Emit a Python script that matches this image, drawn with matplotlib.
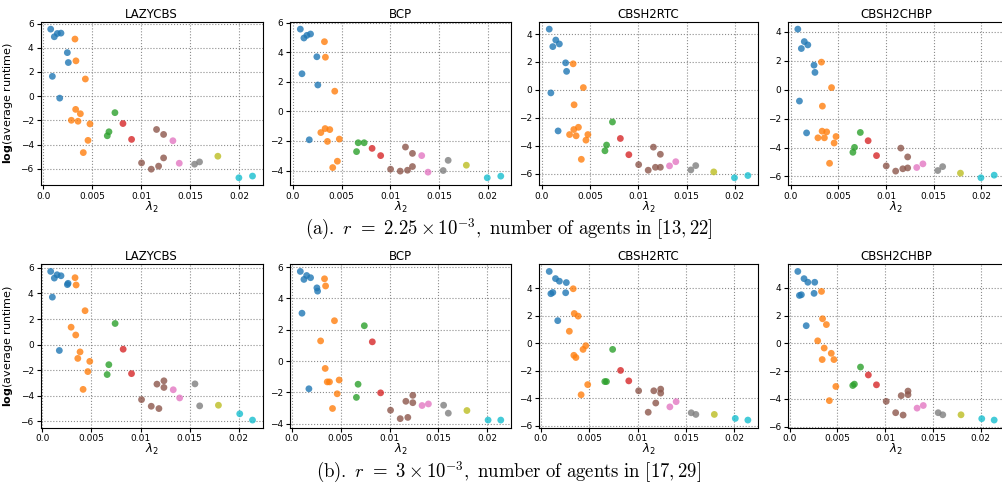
import numpy as np
import matplotlib
matplotlib.use('Agg')
import matplotlib.pyplot as plt
from matplotlib.ticker import FuncFormatter

# ── data: lambda_2 per instance, grouped by colour (agent-count group) ──
lam2_a = [
    [0.00075, 0.00112, 0.00143, 0.0018, 0.00245, 0.00255, 0.00092, 0.00167],
    [0.00323, 0.00333, 0.00429, 0.0033, 0.00378, 0.00286, 0.00354, 0.00476, 0.00456, 0.00408],
    [0.00731, 0.0067, 0.00653],
    [0.00813, 0.00901],
    [0.01156, 0.01228, 0.01003, 0.01102, 0.01177, 0.01228],
    [0.01323, 0.01388],
    [0.01544, 0.01595],
    [0.01782],
    [0.01997, 0.02136],
]
lazycbs_a = [
    [5.54, 4.91, 5.18, 5.21, 3.6, 2.78, 1.64, -0.16],
    [4.72, 2.92, 1.42, -1.09, -1.45, -1.99, -2.07, -2.29, -3.65, -4.66],
    [-1.36, -2.94, -3.27],
    [-2.26, -3.57],
    [-2.75, -3.16, -5.51, -6.03, -5.78, -5.1],
    [-3.68, -5.54],
    [-5.62, -5.43],
    [-4.96],
    [-6.74, -6.6],
]
bcp_a = [
    [5.57, 4.97, 5.15, 5.24, 3.70, 1.79, 2.55, -1.92],
    [4.72, 3.67, 1.37, -1.16, -1.23, -1.43, -2.03, -1.87, -3.37, -3.8],
    [-2.12, -2.12, -2.72],
    [-2.5, -2.99],
    [-2.41, -2.84, -3.91, -4.04, -3.98, -3.73],
    [-2.99, -4.11],
    [-4.0, -3.31],
    [-3.64],
    [-4.49, -4.38],
]
rtc_a = [
    [4.35, 3.1, 3.57, 3.29, 1.94, 1.33, -0.21, -2.93],
    [1.87, -1.06, 0.17, -2.83, -2.67, -3.19, -3.28, -3.19, -3.59, -4.96],
    [-2.29, -3.94, -4.35],
    [-3.47, -4.63],
    [-4.09, -4.6, -5.34, -5.74, -5.53, -5.53],
    [-5.43, -5.13],
    [-5.72, -5.41],
    [-5.86],
    [-6.28, -6.12],
]
chbp_a = [
    [4.18, 2.84, 3.32, 3.09, 1.69, 1.19, -0.79, -2.99],
    [1.9, -1.14, 0.14, -2.87, -2.92, -3.33, -3.33, -3.24, -3.69, -5.09],
    [-2.96, -3.99, -4.33],
    [-3.53, -4.56],
    [-4.04, -4.65, -5.27, -5.63, -5.47, -5.41],
    [-5.38, -5.13],
    [-5.59, -5.32],
    [-5.77],
    [-6.09, -5.91],
]

lam2_b = [
    [0.00085, 0.00122, 0.0015, 0.0019, 0.00255, 0.00262, 0.00102, 0.00173],
    [0.00333, 0.00344, 0.00435, 0.00293, 0.0034, 0.00384, 0.00361, 0.00483, 0.00463, 0.00415],
    [0.00741, 0.00677, 0.0066],
    [0.00823, 0.00908],
    [0.01167, 0.01238, 0.01238, 0.0101, 0.01109, 0.01187],
    [0.01333, 0.01398],
    [0.01554, 0.01602],
    [0.01793],
    [0.0201, 0.0214],
]
lazycbs_b = [
    [5.72, 5.2, 5.46, 5.38, 4.69, 4.79, 3.71, -0.46],
    [5.23, 4.66, 2.65, 1.36, 0.75, -0.57, -1.08, -1.31, -2.11, -3.5],
    [1.65, -1.57, -2.34],
    [-0.36, -2.27],
    [-3.09, -2.83, -3.35, -4.3, -4.82, -5.0],
    [-3.53, -4.17],
    [-3.07, -4.79],
    [-4.74],
    [-5.41, -5.9],
]
bcp_b = [
    [5.73, 5.22, 5.47, 5.33, 4.68, 4.47, 3.06, -1.77],
    [5.26, 4.8, 2.58, 1.29, -0.47, -1.33, -1.33, -1.21, -2.09, -3.03],
    [2.26, -1.48, -2.32],
    [1.23, -2.03],
    [-2.57, -2.19, -2.66, -3.14, -3.68, -3.6],
    [-2.84, -2.74],
    [-2.82, -3.33],
    [-3.16],
    [-3.77, -3.77],
]
rtc_b = [
    [5.24, 3.71, 4.72, 4.53, 3.69, 4.43, 3.62, 1.66],
    [3.98, 2.18, -0.43, 0.89, -0.86, 1.99, -1.02, -2.99, -0.16, -3.73],
    [-0.43, -2.77, -2.77],
    [-1.96, -2.72],
    [-3.44, -3.32, -3.61, -3.44, -5.0, -4.33],
    [-4.61, -4.23],
    [-5.04, -5.16],
    [-5.16],
    [-5.45, -5.57],
]
chbp_b = [
    [5.18, 3.5, 4.66, 4.4, 3.6, 4.4, 3.45, 1.27],
    [3.74, 1.77, -0.72, 0.18, -1.17, 1.35, -0.34, -3.11, -1.17, -4.13],
    [-1.71, -2.94, -3.04],
    [-2.28, -2.99],
    [-3.77, -3.44, -3.7, -4.18, -5.0, -5.17],
    [-4.67, -4.48],
    [-5.0, -5.15],
    [-5.15],
    [-5.43, -5.53],
]

SOLVERS = ['LAZYCBS', 'BCP', 'CBSH2RTC', 'CBSH2CHBP']
ROWS = [
    (lam2_a, [lazycbs_a, bcp_a, rtc_a, chbp_a]),
    (lam2_b, [lazycbs_b, bcp_b, rtc_b, chbp_b]),
]
CAPTIONS = [
    r'$\mathrm{(a).}\ r\ =\ 2.25 \times 10^{-3}\mathrm{,\ number\ of\ agents\ in\ }[13, 22]$',
    r'$\mathrm{(b).}\ r\ =\ 3 \times 10^{-3}\mathrm{,\ number\ of\ agents\ in\ }[17, 29]$',
]
XTICKS = [0.0, 0.005, 0.01, 0.015, 0.02]

tab = plt.get_cmap('tab10').colors
COLORS = [tab[i] for i in (0, 1, 2, 3, 5, 6, 7, 8, 9)]

W, H = 1003, 487
fig = plt.figure(figsize=(W / 100, H / 100), dpi=100)

lefts = [40.6, 290.3, 539.3, 788.0]
widths = [222.0, 220.5, 218.5, 216.0]
tops = [21.7, 264.0]
ax_h = 163.5


def _fmt(v, _):
    if abs(v) < 1e-12:
        return '0.0'
    return ('%.3f' % v).rstrip('0')


for r, (lam2, panels) in enumerate(ROWS):
    for c, (name, yvals) in enumerate(zip(SOLVERS, panels)):
        ax = fig.add_axes([lefts[c] / W, 1 - (tops[r] + ax_h) / H,
                           widths[c] / W, ax_h / H])
        for g, (xs, ys) in enumerate(zip(lam2, yvals)):
            ax.scatter(xs, ys, s=24, color=COLORS[g], alpha=0.8,
                       edgecolors='none', zorder=3)
        ax.set_xticks(XTICKS)
        ax.xaxis.set_major_formatter(FuncFormatter(_fmt))
        ax.grid(True, linestyle=':', color='gray', linewidth=0.8, alpha=0.9)
        ax.tick_params(labelsize=6.5, length=3, pad=2)
        ax.set_title(name, fontsize=8.5, pad=3)
        ax.set_xlabel(r'$\lambda_2$', fontsize=8.5, labelpad=-1)
        if c == 0:
            ax.set_ylabel(r'$\mathbf{log}$(average runtime)', fontsize=8)

    cy = [229, 472][r]
    fig.text(0.507, 1 - cy / H, CAPTIONS[r], ha='center', va='center',
             fontsize=13.5, math_fontfamily='cm')

fig.savefig('out.png', dpi=100)
